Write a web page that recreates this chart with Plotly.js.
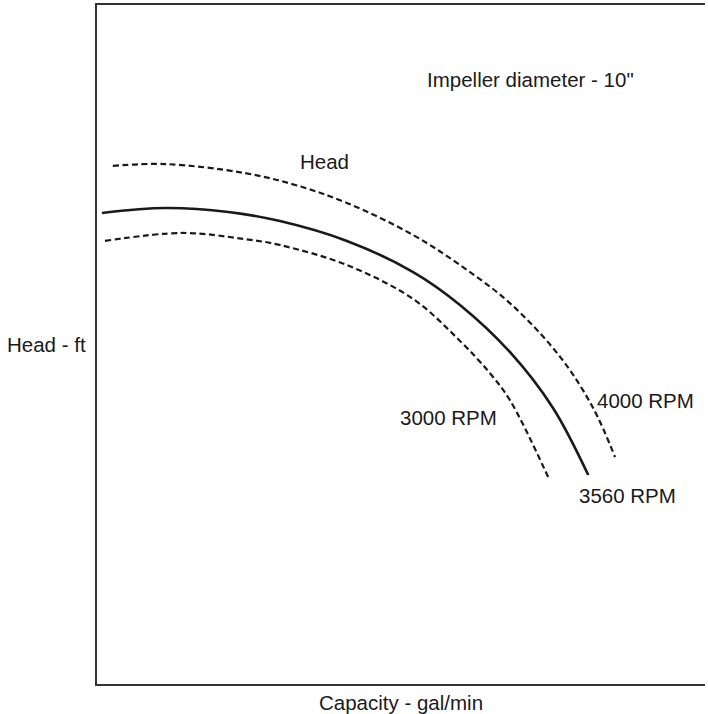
<!DOCTYPE html>
<html>
<head>
<meta charset="utf-8">
<script src="https://cdn.plot.ly/plotly-3.0.1.min.js"></script>
<style>html,body{margin:0;padding:0;background:#fff;}#chart{width:708px;height:714px;}</style>
</head>
<body>
<div id="chart"></div>
<script>
// Capacity (gal/min, arbitrary scale) and head (ft, arbitrary scale)
const cap4000 = [26, 112, 243, 326, 411, 520, 597, 679, 762, 816, 852];
const head4000 = [305.2, 306.3, 301, 294, 283.4, 264.5, 246.8, 224.4, 192.6, 162.6, 133.7];

const cap3560 = [8, 112, 216, 301, 411, 520, 597, 679, 750, 808];
const head3560 = [277.5, 280.4, 278.1, 272.7, 261, 242.7, 223.3, 195.6, 162.6, 123.1];

const cap3000 = [13, 140, 243, 301, 411, 520, 597, 646, 679, 742];
const head3000 = [261, 265.7, 262.1, 258.6, 246.8, 226.8, 202.1, 183.2, 167.3, 121.9];

const seriesNames = ["4000 RPM", "3560 RPM", "3000 RPM"];
const labelText = ["4000 RPM", "3560 RPM", "3000 RPM", "Head", "Impeller diameter - 10\""];
const labelX = [819, 790, 495, 331, 540];
const labelY = [167, 111, 157, 308, 356];

const FONT = "Liberation Sans, Arial, Helvetica, sans-serif";
const ink = "#1a1a1a";

const traces = [
  {x: cap4000, y: head4000, name: seriesNames[0], mode: "lines",
   line: {color: ink, width: 2.2, dash: "6px,3.5px", shape: "spline", smoothing: 1}},
  {x: cap3560, y: head3560, name: seriesNames[1], mode: "lines",
   line: {color: ink, width: 2.6, shape: "spline", smoothing: 1}},
  {x: cap3000, y: head3000, name: seriesNames[2], mode: "lines",
   line: {color: ink, width: 2.2, dash: "6px,3.5px", shape: "spline", smoothing: 1}}
];

const annotations = labelText.map((t, i) => ({
  x: labelX[i], y: labelY[i], xref: "x", yref: "y", text: t,
  showarrow: false, xanchor: "left", yanchor: "middle",
  font: {family: FONT, size: 20.5, color: ink}
}));
annotations.push({
  x: 0, y: 0.5, xref: "paper", yref: "paper", text: "Head - ft",
  showarrow: false, xanchor: "right", yanchor: "middle", xshift: -9,
  font: {family: FONT, size: 20.5, color: ink}
});

const layout = {
  width: 708, height: 714,
  margin: {l: 97, r: 3, t: 5, b: 30},
  paper_bgcolor: "#fff", plot_bgcolor: "#fff",
  showlegend: false,
  font: {family: FONT, color: ink},
  xaxis: {
    range: [0, 1000], showgrid: false, zeroline: false,
    showticklabels: false, ticks: "",
    showline: true, mirror: true, linecolor: "#333", linewidth: 2,
    title: {text: "Capacity - gal/min", font: {family: FONT, size: 20.5, color: ink}, standoff: 11},
    automargin: false
  },
  yaxis: {
    range: [0, 400], showgrid: false, zeroline: false,
    showticklabels: false, ticks: "",
    showline: true, mirror: false, linecolor: "#333", linewidth: 2,
    automargin: false
  },
  annotations: annotations
};

Plotly.newPlot("chart", traces, layout, {staticPlot: true, displayModeBar: false});
</script>
</body>
</html>
